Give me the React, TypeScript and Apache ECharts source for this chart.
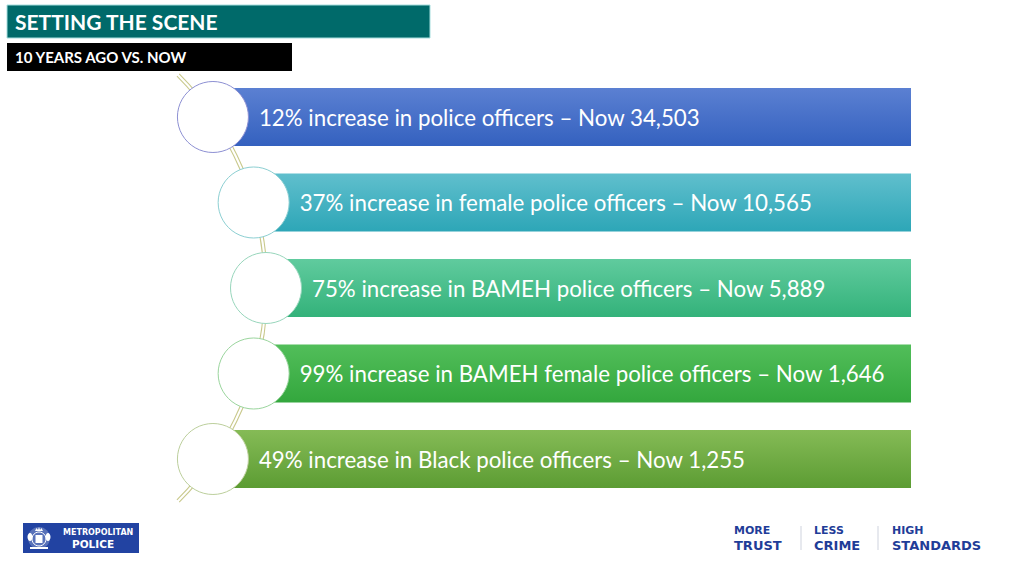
import React, { useEffect, useRef } from "react";
import * as echarts from "echarts";

// ---- data ----
const percentIncrease = [12, 37, 75, 99, 49];
const officerGroups = [
  "police officers",
  "female police officers",
  "BAMEH police officers",
  "BAMEH female police officers",
  "Black police officers",
];
const nowCounts = [34503, 10565, 5889, 1646, 1255];
const titleText = "SETTING THE SCENE";
const subtitleText = "10 YEARS AGO VS. NOW";
const pillarTop = ["MORE", "LESS", "HIGH"];
const pillarBottom = ["TRUST", "CRIME", "STANDARDS"];

// ---- styles ----
const barGradients = [
  ["#5b80d2", "#3461bf"],
  ["#60bfcd", "#2da6b7"],
  ["#60cb9e", "#33b27a"],
  ["#52be5a", "#33a73d"],
  ["#85bb56", "#5c9c33"],
];
const circleStrokes = ["#8d90d3", "#8ccfd2", "#98d6bc", "#9ad59d", "#bccf9c"];
const navy = "#1f3d98";

function fmt(n: number): string {
  const s = String(n);
  return s.replace(/\B(?=(\d{3})+(?!\d))/g, ",");
}

const ARC_CX = -36;
const ARC_R = 302;
const BAR_RIGHT = 911;

export default function App() {
  const ref = useRef<HTMLDivElement>(null);
  useEffect(() => {
    if (!ref.current) return;
    const chart = echarts.init(ref.current, undefined, { renderer: "svg" });
    const data = officerGroups.map((g, i) => [0, i, percentIncrease[i], nowCounts[i]]);

    const arcCy = 288;
    const arcSpan = Math.asin(213 / ARC_R);

    const footer: any[] = [];
    const pillarX = [734, 814, 892];
    pillarTop.forEach((t, i) => {
      footer.push({
        type: "text",
        left: pillarX[i],
        top: 525,
        style: { text: t, fill: navy, font: "bold 11px 'DejaVu Sans'", letterSpacing: 0.3 },
        z: 10,
      });
      footer.push({
        type: "text",
        left: pillarX[i],
        top: 539,
        style: { text: pillarBottom[i], fill: navy, font: "bold 13px 'DejaVu Sans'", letterSpacing: 0.5 },
        z: 10,
      });
    });
    [801, 878].forEach((x) =>
      footer.push({
        type: "line",
        shape: { x1: x, y1: 526, x2: x, y2: 550 },
        style: { stroke: "#cfd3de", lineWidth: 1 },
        z: 10,
      })
    );

    chart.setOption({
      animation: false,
      backgroundColor: "#ffffff",
      grid: { left: 0, right: 0, top: 74.25, bottom: 74.25 },
      xAxis: { type: "value", min: 0, max: 1024, show: false },
      yAxis: { type: "category", data: officerGroups, inverse: true, show: false },
      graphic: [
        // header
        {
          type: "rect",
          shape: { x: 7, y: 5, width: 423, height: 33 },
          style: { fill: "#006a6a", stroke: "#a6dede", lineWidth: 1 },
          z: 10,
        },
        {
          type: "text",
          x: 15,
          y: 21.5,
          style: {
            text: titleText,
            fill: "#ffffff",
            font: "bold 21px Lato",
            verticalAlign: "middle",
          },
          z: 11,
        },
        {
          type: "rect",
          shape: { x: 7, y: 43, width: 285, height: 28 },
          style: { fill: "#000000" },
          z: 10,
        },
        {
          type: "text",
          x: 15,
          y: 57,
          style: {
            text: subtitleText,
            fill: "#ffffff",
            font: "bold 15px Lato",
            verticalAlign: "middle",
          },
          z: 11,
        },
        // connecting arc (double line)
        ...[ARC_R - 1.6, ARC_R + 1.6].map((r) => ({
          type: "arc",
          shape: { cx: ARC_CX, cy: arcCy, r, startAngle: -arcSpan, endAngle: arcSpan, clockwise: true },
          style: { stroke: "#c9c98c", lineWidth: 1.1, fill: "none" },
          z: 0,
        })),
        // logo
        {
          type: "rect",
          shape: { x: 23, y: 523, width: 116, height: 30 },
          style: { fill: "#2243a2" },
          z: 10,
        },
        {
          type: "group",
          z: 11,
          children: [
            { type: "ellipse", shape: { cx: 39, cy: 538, rx: 11, ry: 11 }, style: { fill: "rgba(255,255,255,0.25)" }, z: 11 },
            { type: "circle", shape: { cx: 39, cy: 539, r: 7 }, style: { fill: "none", stroke: "#ffffff", lineWidth: 1 }, z: 11 },
            { type: "rect", shape: { x: 35.5, y: 535, width: 7, height: 8 }, style: { fill: "#ffffff" }, z: 11 },
            { type: "polygon", shape: { points: [[35, 531], [36.5, 528], [38, 530], [39, 527], [40, 530], [41.5, 528], [43, 531]] }, style: { fill: "#ffffff" }, z: 11 },
            { type: "ellipse", shape: { cx: 30, cy: 537, rx: 2.5, ry: 4 }, style: { fill: "#ffffff" }, z: 11 },
            { type: "ellipse", shape: { cx: 48, cy: 537, rx: 2.5, ry: 4 }, style: { fill: "#ffffff" }, z: 11 },
            { type: "rect", shape: { x: 30, y: 547, width: 18, height: 2 }, style: { fill: "#ffffff" }, z: 11 },
          ],
        },
        {
          type: "text",
          x: 63,
          y: 532,
          style: { text: "METROPOLITAN", fill: "#ffffff", font: "bold 8px 'DejaVu Sans'", verticalAlign: "middle" },
          z: 11,
        },
        {
          type: "text",
          x: 72,
          y: 544,
          style: { text: "POLICE", fill: "#ffffff", font: "bold 10.5px 'DejaVu Sans'", verticalAlign: "middle", letterSpacing: 1.2 },
          z: 11,
        },
        ...footer,
      ],
      series: [
        {
          type: "custom",
          coordinateSystem: "cartesian2d",
          clip: false,
          z: 5,
          encode: { x: 0, y: 1 },
          data,
          renderItem: (params: any, api: any) => {
            const idx = api.value(1);
            const pct = api.value(2);
            const count = api.value(3);
            const y = api.coord([0, idx])[1];
            const midY = api.coord([0, 2])[1];
            const band = api.size([0, 1])[1];
            const dy = y - midY;
            const cx = ARC_CX + Math.sqrt(ARC_R * ARC_R - dy * dy);
            const barH = band * 0.68;
            const r = 35.5;
            const barLeft = cx + 20;
            const g = barGradients[idx];
            return {
              type: "group",
              children: [
                {
                  type: "rect",
                  shape: { x: barLeft, y: y - barH / 2, width: BAR_RIGHT - barLeft, height: barH },
                  style: {
                    fill: new echarts.graphic.LinearGradient(0, 0, 0, 1, [
                      { offset: 0, color: g[0] },
                      { offset: 1, color: g[1] },
                    ]),
                  },
                },
                {
                  type: "circle",
                  shape: { cx, cy: y, r },
                  style: { fill: "#ffffff", stroke: circleStrokes[idx], lineWidth: 1 },
                },
                {
                  type: "text",
                  style: {
                    x: cx + 46,
                    y: y,
                    text: `${pct}% increase in ${officerGroups[idx]} \u2013 Now ${fmt(count)}`,
                    fill: "#ffffff",
                    font: "22.3px Lato",
                    verticalAlign: "middle",
                  },
                },
              ],
            };
          },
        },
      ],
    });
    return () => chart.dispose();
  }, []);
  return (
    <div
      ref={ref}
      style={{ position: "fixed", left: 0, top: 0, width: 1024, height: 576, background: "#fff" }}
    />
  );
}
